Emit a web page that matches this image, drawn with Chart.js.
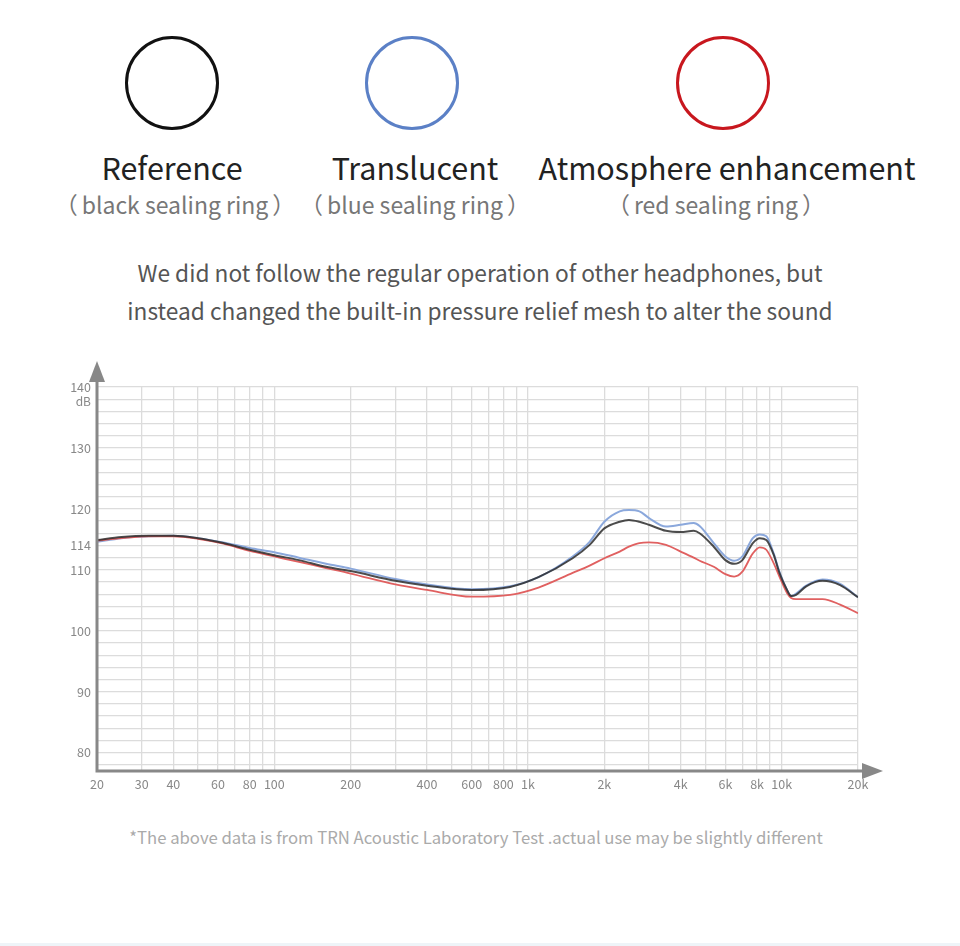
<!DOCTYPE html>
<html>
<head>
<meta charset="utf-8">
<script src="https://cdn.jsdelivr.net/npm/chart.js@4"></script>
<style>
  body { margin: 0; background: #fff; font-family: "Noto Sans CJK SC", "Noto Sans", sans-serif; }
  #page { position: relative; width: 960px; height: 946px; overflow: hidden; }
  .ring { position: absolute; width: 88px; height: 88px; border-radius: 50%; border: 3px solid; top: 36px; }
  .name { position: absolute; top: 145px; width: 400px; text-align: center; font-size: 30.5px; color: #222; }
  .sub { position: absolute; top: 187px; width: 400px; text-align: center; font-size: 23px; color: #777; }
  .sub span { margin: 0 4px; }
  .para { position: absolute; left: 0; width: 960px; text-align: center; font-size: 22.7px; color: #555; }
  .note { position: absolute; top: 825px; left: 0; width: 952px; text-align: center; font-size: 16.7px; color: #aaa; }
  #chartBox { position: absolute; left: 0; top: 340px; width: 960px; height: 470px; }
  #bottomLine { position: absolute; left: 0; top: 943px; width: 960px; height: 3px; background: #eef4f8; }
</style>
</head>
<body>
<div id="page">
  <div class="ring" style="left:125px;border-color:#111"></div>
  <div class="ring" style="left:365px;border-color:#5b80c6"></div>
  <div class="ring" style="left:676px;border-color:#c8171e"></div>
  <div class="name" style="left:-28px">Reference</div>
  <div class="name" style="left:215px">Translucent</div>
  <div class="name" style="left:527px">Atmosphere enhancement</div>
  <div class="sub" style="left:-25px"><span>（</span>black sealing ring<span>）</span></div>
  <div class="sub" style="left:215px"><span>（</span>blue sealing ring<span>）</span></div>
  <div class="sub" style="left:516px"><span>（</span>red sealing ring<span>）</span></div>
  <div class="para" style="top:256px">We did not follow the regular operation of other headphones, but</div>
  <div class="para" style="top:294px">instead changed the built-in pressure relief mesh to alter the sound</div>
  <div id="chartBox"><canvas id="chart1" width="960" height="470"></canvas></div>
  <div class="note">*The above data is from TRN Acoustic Laboratory Test .actual use may be slightly different</div>
  <div id="bottomLine"></div>
</div>
<script>
const freqs = [20, 25, 32, 40, 50, 63, 80, 100, 125, 160, 200, 300, 400, 600, 850,
  1100, 1500, 1750, 2000, 2300, 2500, 2750, 3000, 3500, 4000, 4500, 4750, 5400, 6000,
  6500, 7000, 7700, 8200, 8700, 9300, 9800, 10500, 10900, 11400, 12500, 14500, 17000, 20000];

const reference = [114.9, 115.4, 115.6, 115.6, 115.2, 114.4, 113.3, 112.4, 111.6, 110.5, 109.8, 108.2, 107.4, 106.7, 107.2,
  108.8, 111.9, 114.1, 116.8, 117.9, 118.2, 117.9, 117.4, 116.4, 116.2, 116.4, 116.0, 113.8, 111.6,
  111.0, 111.6, 114.4, 115.2, 114.9, 112.5, 109.5, 106.7, 105.7, 105.9, 107.3, 108.2, 107.5, 105.5];

const translucent = [114.6, 115.2, 115.5, 115.6, 115.2, 114.5, 113.6, 112.9, 112.0, 111.0, 110.2, 108.5, 107.6, 106.8, 107.3,
  108.8, 112.2, 114.6, 117.9, 119.6, 119.8, 119.6, 118.5, 117.1, 117.4, 117.7, 117.2, 114.4, 112.2,
  111.5, 112.2, 115.2, 115.8, 115.5, 112.7, 109.7, 106.7, 105.7, 106.1, 107.4, 108.4, 107.7, 105.5];

const atmosphere = [114.8, 115.2, 115.5, 115.5, 115.1, 114.3, 113.1, 112.2, 111.3, 110.3, 109.4, 107.6, 106.7, 105.6, 105.9,
  107.1, 109.5, 110.7, 111.9, 113.0, 113.8, 114.4, 114.5, 114.1, 113.0, 112.0, 111.5, 110.5, 109.3,
  108.9, 109.7, 112.7, 113.7, 113.3, 111.1, 108.9, 106.2, 105.4, 105.2, 105.2, 105.2, 104.3, 102.9];

const gridFreqs = [20, 30, 40, 50, 60, 70, 80, 90, 100, 200, 300, 400, 500, 600, 700, 800, 900,
  1000, 2000, 3000, 4000, 5000, 6000, 7000, 8000, 9000, 10000, 20000];
const freqLabels = [20, 30, 40, 60, 80, 100, 200, 400, 600, 800, 1000, 2000, 4000, 6000, 8000, 10000, 20000];
const dbGrid = [];
for (let v = 78; v <= 140; v += 2) dbGrid.push(v);
const dbLabels = [80, 90, 100, 110, 114, 120, 130, 140];

const pts = (arr) => freqs.map((f, i) => ({ x: f, y: arr[i] }));

const axisArrows = {
  id: "axisArrows",
  afterDraw(chart) {
    const c = chart.ctx;
    const a = chart.chartArea;
    c.save();
    c.strokeStyle = "#888";
    c.fillStyle = "#888";
    c.lineWidth = 3;
    c.beginPath();
    c.moveTo(a.left, a.bottom + 1.5);
    c.lineTo(a.left, a.top - 6);
    c.moveTo(a.left - 1.5, a.bottom);
    c.lineTo(a.right + 6, a.bottom);
    c.stroke();
    c.beginPath();
    c.moveTo(a.left, a.top - 26);
    c.lineTo(a.left - 8, a.top - 5);
    c.lineTo(a.left + 8, a.top - 5);
    c.closePath();
    c.fill();
    c.beginPath();
    c.moveTo(a.right + 25, a.bottom);
    c.lineTo(a.right + 4, a.bottom - 8);
    c.lineTo(a.right + 4, a.bottom + 8);
    c.closePath();
    c.fill();
    c.font = "12px 'Noto Sans CJK SC', sans-serif";
    c.fillStyle = "#888";
    c.textAlign = "right";
    c.textBaseline = "middle";
    c.fillText("dB", a.left - 6, a.top + 14);
    c.restore();
  },
};

const chart1 = document.getElementById("chart1").getContext("2d");
const fr = new Chart(chart1, {
  type: "line",
  data: {
    datasets: [
      { label: "Reference", data: pts(reference), borderColor: "rgba(45,45,45,0.85)", borderWidth: 2 },
      { label: "Atmosphere enhancement", data: pts(atmosphere), borderColor: "#e06060", borderWidth: 1.8 },
      { label: "Translucent", data: pts(translucent), borderColor: "#8ba8dc", borderWidth: 2 },
    ],
  },
  plugins: [axisArrows],
  options: {
    responsive: false,
    animation: false,
    devicePixelRatio: 1,
    layout: { padding: { left: 0, top: 47, right: 102, bottom: 0 } },
    elements: {
      point: { radius: 0 },
      line: { cubicInterpolationMode: "monotone", fill: false },
    },
    plugins: { legend: { display: false }, tooltip: { enabled: false } },
    scales: {
      x: {
        type: "logarithmic",
        min: 20,
        max: 20000,
        afterBuildTicks: (s) => { s.ticks = gridFreqs.map((v) => ({ value: v })); },
        afterFit: (s) => { s.height = 39; },
        grid: { color: "#dcdcdc", lineWidth: 1.3, drawTicks: false },
        border: { display: false },
        ticks: {
          autoSkip: false,
          maxRotation: 0,
          padding: 6,
          color: "#888",
          font: { size: 12.5, family: "'Noto Sans CJK SC', sans-serif" },
          callback: (v) => freqLabels.includes(v) ? (v >= 1000 ? v / 1000 + "k" : String(v)) : "",
        },
      },
      y: {
        min: 77,
        max: 140,
        afterBuildTicks: (s) => { s.ticks = dbGrid.map((v) => ({ value: v })); },
        afterFit: (s) => { s.width = 97; },
        grid: { color: "#dcdcdc", lineWidth: 1.3, drawTicks: false },
        border: { display: false },
        ticks: {
          autoSkip: false,
          padding: 6,
          color: "#888",
          font: { size: 12.5, family: "'Noto Sans CJK SC', sans-serif" },
          callback: (v) => dbLabels.includes(v) ? String(v) : "",
        },
      },
    },
  },
});
</script>
</body>
</html>
